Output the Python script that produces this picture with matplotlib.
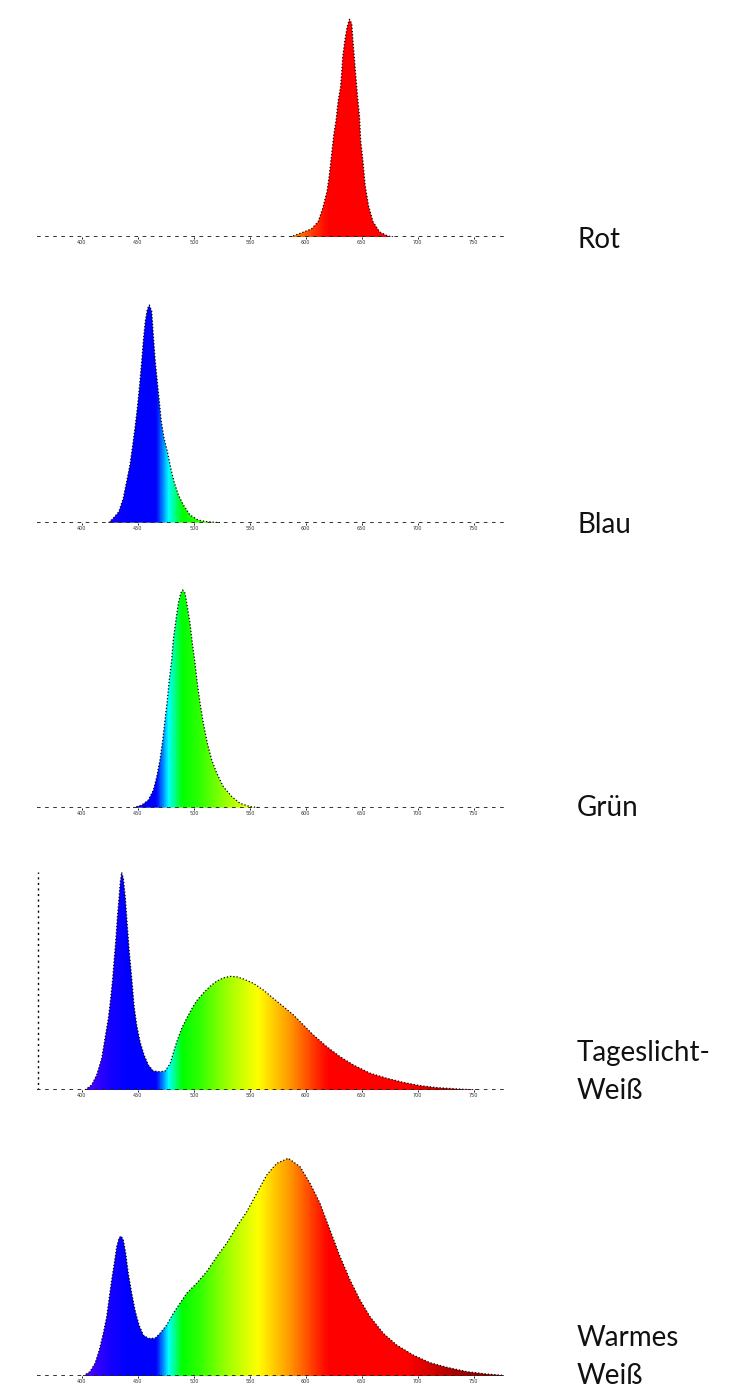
import numpy as np
import matplotlib
matplotlib.use("Agg")
import matplotlib.pyplot as plt
from matplotlib.colors import LinearSegmentedColormap
from matplotlib.patches import Polygon

W, H, DPI = 743, 1398, 100

# ---- data (wavelength in nm, relative intensity) ----
red_nm = [586, 596, 605, 611, 615, 619, 621, 623, 625, 627, 629, 631, 632, 633, 635, 637,
          639, 641, 642, 644, 646, 648, 649, 651, 653, 656, 660, 666, 673, 678]
red_val = [0, 0.019, 0.037, 0.07, 0.13, 0.21, 0.284, 0.377, 0.47, 0.535, 0.628, 0.688, 0.749,
           0.828, 0.907, 0.967, 1.0, 0.98, 0.907, 0.78, 0.656, 0.549, 0.442, 0.349, 0.237,
           0.144, 0.07, 0.023, 0.005, 0]

blue_nm = [424, 428, 433, 437, 440, 443, 445.5, 447.5, 449.6, 451.4, 453.5, 454.9, 456.7, 458.5,
           460.3, 462.4, 463.8, 465.6, 467.4, 469.2, 471, 473.4, 476.4, 479.4, 482.3, 486.2,
           490.6, 496.6, 504, 511.5, 523.4]
blue_val = [0, 0.02, 0.05, 0.112, 0.189, 0.266, 0.358, 0.436, 0.529, 0.621, 0.742, 0.834, 0.926,
            0.98, 1.0, 0.972, 0.865, 0.742, 0.65, 0.558, 0.465, 0.389, 0.327, 0.251, 0.189,
            0.128, 0.082, 0.035, 0.012, 0.005, 0]

green_nm = [446, 453.5, 459.4, 463.9, 466.9, 469.8, 472.3, 474.3, 476.4, 478.1, 480.3, 481.7,
            484.1, 486.2, 488.3, 490.1, 492.2, 494.2, 496.6, 498.7, 501.1, 503.1, 505.6, 508.5,
            512.1, 516, 520.5, 526.4, 533.9, 541.3, 550.2, 559.1]
green_val = [0, 0.012, 0.035, 0.081, 0.142, 0.219, 0.311, 0.403, 0.495, 0.587, 0.679, 0.771,
             0.863, 0.939, 0.985, 1.0, 0.985, 0.923, 0.847, 0.755, 0.663, 0.571, 0.48, 0.388,
             0.296, 0.219, 0.158, 0.096, 0.051, 0.02, 0.005, 0]

day_nm = [402.9, 408.8, 413.3, 417.8, 420.7, 423.7, 425.8, 427.6, 429, 430.5, 431.7, 433.2,
          434.4, 435.6, 437.1, 438.9, 440.6, 442.4, 444.6, 446.6, 449, 452, 455.6, 459.4,
          463.9, 469.8, 474.3, 478.8, 481.7, 484.8, 489.2, 493.7, 498.1, 502.6, 508.5, 514.5,
          520.5, 526.4, 532.3, 538.3, 544.2, 553.2, 562.1, 571, 580, 588.9, 597.8, 606.7,
          618.7, 630.6, 642.5, 657.4, 672.3, 687.1, 702, 716.9, 734.8, 752.7]
day_val = [0, 0.023, 0.069, 0.146, 0.237, 0.329, 0.421, 0.513, 0.605, 0.697, 0.789, 0.881,
           0.957, 1.0, 0.972, 0.881, 0.758, 0.635, 0.513, 0.39, 0.299, 0.222, 0.161, 0.115,
           0.087, 0.084, 0.087, 0.12, 0.17, 0.222, 0.283, 0.33, 0.372, 0.41, 0.445, 0.476,
           0.5, 0.515, 0.522, 0.52, 0.51, 0.49, 0.459, 0.421, 0.383, 0.345, 0.299, 0.253,
           0.199, 0.153, 0.115, 0.077, 0.054, 0.035, 0.02, 0.011, 0.005, 0]

warm_nm = [401.3, 407.3, 411.8, 415.6, 419.2, 422.2, 424.6, 426.7, 429, 431.2, 433.2, 435,
           437.1, 439.2, 441.5, 444.6, 447.5, 451.1, 454.9, 459.4, 465.4, 469.8, 475.8, 481.7,
           487.7, 493.7, 502.6, 511.5, 520.5, 529.4, 538.3, 547.3, 556.2, 565.1, 574.1, 584.4,
           594.9, 603.8, 612.7, 621.6, 630.6, 639.5, 648.4, 657.4, 669.2, 681.2, 696, 710.9,
           725.9, 743.7, 761.6, 776.4]
warm_val = [0, 0.02, 0.058, 0.119, 0.196, 0.272, 0.364, 0.441, 0.518, 0.594, 0.633, 0.643,
            0.625, 0.564, 0.472, 0.38, 0.303, 0.234, 0.188, 0.173, 0.173, 0.196, 0.234, 0.288,
            0.334, 0.38, 0.426, 0.479, 0.548, 0.61, 0.686, 0.755, 0.839, 0.923, 0.977, 1.0,
            0.961, 0.885, 0.793, 0.671, 0.548, 0.441, 0.349, 0.272, 0.196, 0.142, 0.096, 0.061,
            0.04, 0.02, 0.009, 0.003]

labels = ["Rot", "Blau", "Grün", "Tageslicht-\nWeiß", "Warmes\nWeiß"]
tick_nm = [400, 450, 500, 550, 600, 650, 700, 750]
tick_labels = ["400", "450", "500", "550", "600", "650", "700", "750"]

spec_nm = [360, 405, 425, 440, 466, 477, 489, 505, 530, 557, 585, 612, 620, 690, 735, 780]
spec_col = ["#7000ff", "#4b00ff", "#1400ff", "#0000ff", "#0000ff", "#00ffff", "#00ff00",
            "#30ff00", "#a0ff00", "#ffff00", "#ff9a00", "#ff2000", "#ff0000", "#ff0000",
            "#a80000", "#780000"]

XMIN, XMAX, YMAX = 360, 780, 1.05
cmap = LinearSegmentedColormap.from_list(
    "spec", [((n - XMIN) / (XMAX - XMIN), c) for n, c in zip(spec_nm, spec_col)])

series = [(red_nm, red_val), (blue_nm, blue_val), (green_nm, green_val),
          (day_nm, day_val), (warm_nm, warm_val)]
baselines_px = [237, 522.7, 807.7, 1090, 1376]
label_y_px = [240, 525, 808, 1072, 1357]

fig = plt.figure(figsize=(W / DPI, H / DPI), dpi=DPI)
fig.patch.set_facecolor("white")

ax_left_px, ax_right_px = 37, 507.4
unit_px = 217.7
for i, ((nm, val), yb) in enumerate(zip(series, baselines_px)):
    hpx = unit_px * YMAX
    ax = fig.add_axes([ax_left_px / W, 1 - yb / H, (ax_right_px - ax_left_px) / W, hpx / H])
    ax.set_xlim(XMIN, XMAX)
    ax.set_ylim(0, YMAX)
    for s in ax.spines.values():
        s.set_visible(False)
    grad = np.linspace(XMIN, XMAX, 1200).reshape(1, -1)
    im = ax.imshow(grad, cmap=cmap, vmin=XMIN, vmax=XMAX, aspect="auto",
                   extent=[XMIN, XMAX, 0, YMAX], origin="lower", interpolation="bilinear")
    poly = Polygon(np.column_stack([list(nm) + [nm[-1], nm[0]], list(val) + [0, 0]]),
                   closed=True, facecolor="none", edgecolor="none", transform=ax.transData)
    ax.add_patch(poly)
    im.set_clip_path(poly)
    ax.plot(nm, val, color="black", lw=0.9, ls=(0, (1, 1.6)))
    ax.axhline(0, color="#222222", lw=1.3, ls=(0, (2, 2.5)), zorder=3)
    ax.set_xticks(tick_nm)
    ax.set_xticklabels(tick_labels, fontsize=3.5, color="#333333")
    ax.tick_params(axis="x", length=1.5, width=0.6, pad=1)
    ax.set_yticks([])
    if i == 3:
        ax.axvline(XMIN + 1, ymin=0, ymax=1 / YMAX, color="black", lw=1.0,
                   ls=(0, (1.5, 2.5)))
    fig.text(577 / W, 1 - label_y_px[i] / H, labels[i], fontsize=20, family="Lato",
             fontweight="normal", ha="left", va="center", linespacing=1.6, color="#111111")

fig.savefig("out.png", dpi=DPI, facecolor="white")
